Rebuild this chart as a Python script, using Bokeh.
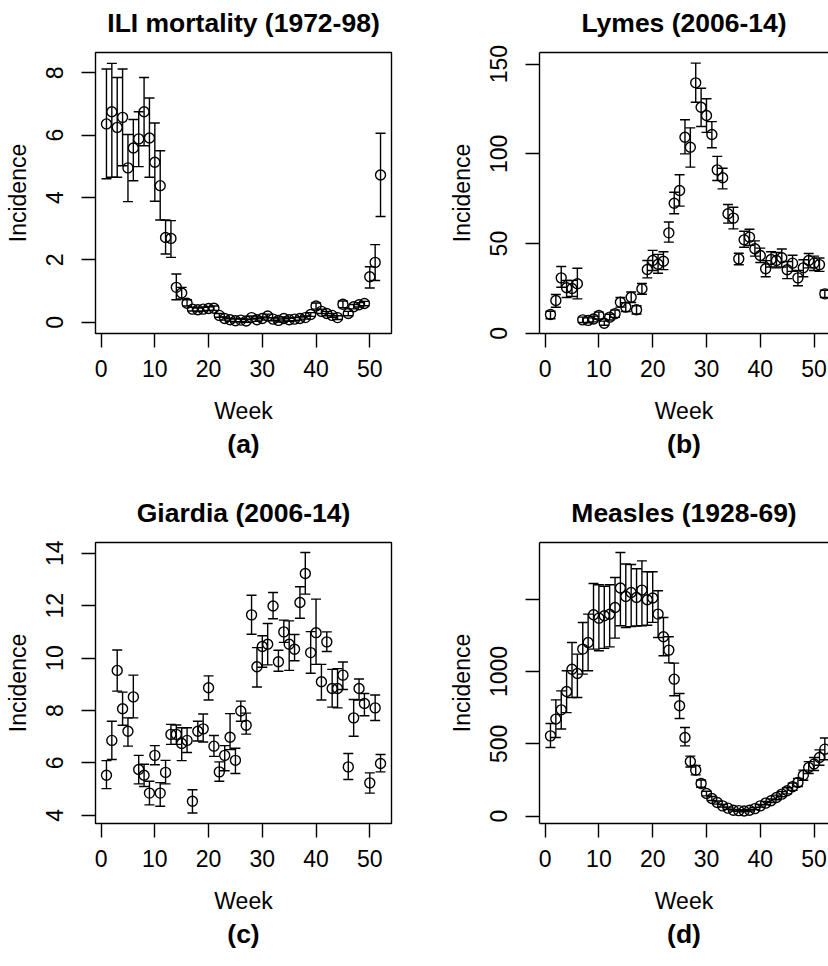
from bokeh.plotting import figure
from bokeh.models import (ColumnDataSource, Whisker, TeeHead, FixedTicker,
                          LinearAxis, Range1d, Title)
from bokeh.layouts import row, column
from bokeh.embed import file_html
from bokeh.resources import INLINE

FONT = "Liberation Sans"

weeks = list(range(1, 53))
x_ticks = [0, 10, 20, 30, 40, 50]

# ---- (a) ILI mortality (1972-98)
a_val = [6.36, 6.75, 6.25, 6.57, 4.95, 5.59, 5.88, 6.75, 5.91, 5.13,
         4.38, 2.72, 2.69, 1.12, 0.94, 0.61, 0.42, 0.40, 0.42, 0.44,
         0.45, 0.22, 0.12, 0.08, 0.05, 0.07, 0.04, 0.15, 0.08, 0.12,
         0.20, 0.10, 0.06, 0.12, 0.08, 0.10, 0.12, 0.15, 0.25, 0.52,
         0.35, 0.28, 0.22, 0.15, 0.58, 0.28, 0.50, 0.56, 0.60, 1.46,
         1.92, 4.72]
a_lo = [4.60, 4.65, 4.65, 5.02, 3.87, 4.54, 4.99, 5.66, 4.65, 3.88,
        3.28, 2.19, 2.08, 0.72, 0.75, 0.52, 0.36, 0.34, 0.36, 0.38,
        0.38, 0.16, 0.07, 0.03, 0.01, 0.02, 0.00, 0.10, 0.03, 0.07,
        0.14, 0.05, 0.01, 0.07, 0.03, 0.05, 0.07, 0.10, 0.19, 0.42,
        0.28, 0.21, 0.16, 0.09, 0.47, 0.21, 0.43, 0.49, 0.53, 1.10,
        1.34, 3.39]
a_hi = [8.12, 8.30, 7.85, 8.12, 6.02, 6.50, 6.75, 7.85, 7.19, 6.39,
        5.50, 3.28, 3.26, 1.55, 1.12, 0.72, 0.48, 0.46, 0.48, 0.50,
        0.52, 0.28, 0.17, 0.13, 0.10, 0.12, 0.09, 0.20, 0.13, 0.17,
        0.26, 0.15, 0.11, 0.17, 0.13, 0.15, 0.17, 0.20, 0.31, 0.62,
        0.42, 0.35, 0.28, 0.21, 0.68, 0.35, 0.57, 0.63, 0.67, 1.78,
        2.49, 6.06]

# ---- (b) Lymes (2006-14)
b_val = [10.5, 18.3, 30.9, 25.4, 25.0, 27.6, 7.5, 7.2, 8.0, 9.9,
         5.6, 9.0, 10.9, 17.3, 14.6, 20.1, 13.1, 24.8, 35.6, 40.6,
         38.5, 40.2, 56.0, 72.5, 79.6, 109.3, 103.7, 139.6, 126.0, 121.4,
         110.8, 91.1, 86.7, 66.6, 64.2, 41.5, 52.1, 53.6, 47.1, 43.4,
         36.0, 41.1, 40.6, 42.1, 35.4, 39.1, 30.9, 36.5, 40.6, 39.1,
         38.3, 22.0]
b_lo = [8.1, 14.5, 25.7, 20.0, 20.5, 19.2, 6.0, 5.8, 6.4, 8.0,
        4.5, 7.4, 8.9, 14.6, 12.2, 17.2, 10.8, 21.8, 30.9, 35.0,
        33.5, 35.5, 50.8, 66.6, 70.9, 100.0, 92.6, 128.8, 115.3, 112.0,
        103.4, 85.2, 80.5, 61.4, 58.2, 38.2, 48.0, 49.0, 43.0, 39.5,
        31.5, 37.0, 36.5, 37.0, 30.5, 34.5, 26.5, 31.5, 36.5, 35.0,
        34.5, 20.0]
b_hi = [12.3, 21.6, 37.2, 29.4, 29.5, 36.3, 9.0, 8.6, 9.6, 11.8,
        6.8, 10.6, 12.9, 20.0, 17.0, 23.0, 15.4, 27.8, 40.6, 46.2,
        44.0, 45.5, 62.0, 78.6, 88.4, 119.0, 114.5, 150.6, 136.6, 130.7,
        118.0, 98.6, 92.0, 71.8, 70.3, 44.6, 56.9, 58.0, 51.5, 47.5,
        40.5, 45.5, 45.0, 47.0, 40.0, 43.5, 35.0, 41.0, 44.5, 43.0,
        42.0, 24.0]

# ---- (c) Giardia (2006-14)
c_val = [5.53, 6.86, 9.53, 8.07, 7.21, 8.52, 5.75, 5.53, 4.85, 6.29,
         4.85, 5.64, 7.09, 7.09, 6.74, 6.86, 4.54, 7.21, 7.30, 8.87,
         6.64, 5.66, 6.29, 6.98, 6.10, 7.98, 7.44, 11.65, 9.67, 10.44,
         10.53, 11.99, 9.86, 11.00, 10.53, 10.34, 12.12, 13.23, 10.21, 10.97,
         9.10, 10.62, 8.84, 8.84, 9.35, 5.85, 7.72, 8.84, 8.27, 5.24,
         8.10, 5.98]
c_lo = [5.02, 6.13, 8.74, 7.44, 6.64, 7.72, 5.20, 5.10, 4.40, 5.93,
        4.35, 5.20, 6.71, 6.71, 6.09, 6.40, 4.09, 6.84, 6.80, 8.40,
        6.25, 5.30, 5.70, 6.51, 5.60, 7.59, 7.10, 10.91, 8.90, 9.65,
        9.74, 11.50, 9.50, 10.60, 9.53, 9.90, 11.52, 12.44, 9.42, 9.76,
        8.40, 10.25, 8.13, 8.10, 8.80, 5.37, 7.02, 8.40, 7.80, 4.85,
        7.62, 5.66]
c_hi = [6.09, 7.59, 10.31, 8.70, 7.72, 9.35, 6.29, 5.95, 5.30, 6.66,
        5.25, 6.10, 7.47, 7.45, 7.34, 7.34, 4.98, 7.59, 7.87, 9.32,
        7.05, 6.04, 6.66, 7.88, 6.56, 8.36, 7.90, 12.40, 10.40, 10.85,
        11.32, 12.50, 10.30, 11.45, 11.42, 10.90, 12.72, 14.03, 11.01, 12.25,
        9.76, 11.00, 9.57, 9.60, 9.85, 6.36, 8.42, 9.20, 8.65, 5.62,
        8.59, 6.32]

# ---- (d) Measles (1928-69)
d_val = [555, 671, 735, 862, 1016, 986, 1155, 1201, 1392, 1369,
         1385, 1396, 1443, 1577, 1519, 1546, 1512, 1563, 1496, 1508,
         1397, 1240, 1148, 947, 763, 544, 378, 318, 226, 156,
         122, 94, 71, 55, 41, 38, 35, 41, 52, 71,
         90, 106, 129, 152, 175, 203, 233, 283, 336, 360,
         405, 463]
d_lo = [474, 544, 602, 716, 820, 820, 982, 1005, 1155, 1143,
        1160, 1170, 1231, 1316, 1304, 1310, 1315, 1316, 1320, 1340,
        1235, 1109, 1060, 832, 675, 486, 340, 285, 200, 140,
        108, 83, 62, 48, 35, 32, 30, 35, 45, 62,
        79, 93, 113, 134, 154, 178, 205, 248, 295, 315,
        352, 390]
d_hi = [640, 804, 866, 1005, 1201, 1120, 1339, 1397, 1609, 1600,
        1590, 1600, 1650, 1823, 1743, 1740, 1710, 1765, 1690, 1690,
        1558, 1373, 1240, 1058, 848, 613, 415, 350, 250, 172,
        136, 105, 80, 62, 47, 44, 40, 47, 59, 80,
        101, 119, 145, 170, 196, 228, 261, 318, 377, 405,
        458, 540]

LW = 1.4
FRAME_H = 281
SHIFT = 14                # hidden by the column's negative top margin
TOP_BORDER = 52 + SHIFT   # frame top lands at 52 px on the page
FIG_H = 490


def style_common(ax, size="23px"):
    ax.major_tick_out = 14
    ax.major_tick_in = 0
    ax.minor_tick_out = 0
    ax.minor_tick_in = 0
    ax.minor_tick_line_color = None
    ax.major_tick_line_color = "black"
    ax.major_tick_line_width = LW
    ax.major_label_text_font = FONT
    ax.major_label_text_font_size = size
    ax.major_label_text_color = "black"
    ax.axis_label_text_font = FONT
    ax.axis_label_text_font_size = size
    ax.axis_label_text_font_style = "normal"
    ax.axis_label_text_color = "black"


def make_panel(title, sub, vals, lo, hi, yr, yticks, overrides, left_side):
    w = 440 if left_side else 388
    h = FIG_H
    bl = 95 if left_side else 99
    br = 49 if left_side else 0
    xr = (-1.04, 54.04) if left_side else (-1.04, 52.68)
    p = figure(width=w, height=h, x_range=Range1d(*xr), y_range=Range1d(*yr),
               output_backend="svg", toolbar_location=None,
               min_border_left=bl, min_border_right=br,
               min_border_top=TOP_BORDER,
               min_border_bottom=h - TOP_BORDER - FRAME_H)
    p.xgrid.visible = False
    p.ygrid.visible = False
    p.background_fill_color = "white"
    p.border_fill_color = "white"

    src = ColumnDataSource(dict(week=weeks, val=vals, lo=lo, hi=hi))
    wh = Whisker(source=src, base="week", upper="hi", lower="lo",
                 dimension="height", line_color="black", line_width=LW,
                 upper_head=TeeHead(size=10, line_color="black", line_width=LW),
                 lower_head=TeeHead(size=10, line_color="black", line_width=LW))
    p.add_layout(wh)
    p.scatter("week", "val", source=src, marker="circle", size=10,
              fill_color=None, line_color="black", line_width=LW)

    xa = p.xaxis[0]
    style_common(xa)
    xa.ticker = FixedTicker(ticks=x_ticks)
    xa.major_label_standoff = 12
    xa.axis_label = "Week"
    xa.axis_label_standoff = 18

    ya = p.yaxis[0]
    style_common(ya)
    ya.ticker = FixedTicker(ticks=yticks)
    ya.major_label_overrides = overrides
    ya.major_label_orientation = "parallel"
    ya.major_label_standoff = 18
    ya.axis_label = "Incidence"
    ya.axis_label_standoff = 13

    if left_side:
        p.outline_line_color = "black"
        p.outline_line_width = LW
        p.outline_line_alpha = 1.0
        xa.axis_line_color = None
        ya.axis_line_color = None
    else:
        p.outline_line_color = None
        xa.axis_line_color = "black"
        xa.axis_line_width = LW
        ya.axis_line_color = "black"
        ya.axis_line_width = LW
        topax = LinearAxis(ticker=FixedTicker(ticks=[]), axis_line_color="black",
                           axis_line_width=LW, major_tick_out=0, major_tick_in=0,
                           minor_tick_out=0, minor_tick_in=0,
                           major_label_text_font_size="0px",
                           major_label_standoff=0)
        p.add_layout(topax, "above")

    p.title.text = title
    p.title.align = "center"
    p.title.text_font = FONT
    p.title.text_font_size = "26.5px"
    p.title.text_font_style = "bold"
    p.title.text_color = "black"
    p.title.standoff = 29

    p.add_layout(Title(text=sub, align="center", text_font=FONT,
                       text_font_size="26.5px", text_font_style="bold",
                       text_color="black", standoff=0), "below")
    return p


pa = make_panel("ILI mortality (1972-98)", "(a)", a_val, a_lo, a_hi,
                (-0.36, 8.65), [0, 2, 4, 6, 8], {}, True)
pb = make_panel("Lymes (2006-14)", "(b)", b_val, b_lo, b_hi,
                (-0.1, 156.5), [0, 50, 100, 150], {}, False)
pc = make_panel("Giardia (2006-14)", "(c)", c_val, c_lo, c_hi,
                (3.69, 14.41), [4, 6, 8, 10, 12, 14], {}, True)
pd = make_panel("Measles (1928-69)", "(d)", d_val, d_lo, d_hi,
                (-51, 1892), [0, 500, 1000, 1500], {1500: ""}, False)

layout = column(row(pa, pb), row(pc, pd), margin=(-SHIFT, 0, 0, 0))
open("out.html", "w").write(file_html(layout, INLINE))
